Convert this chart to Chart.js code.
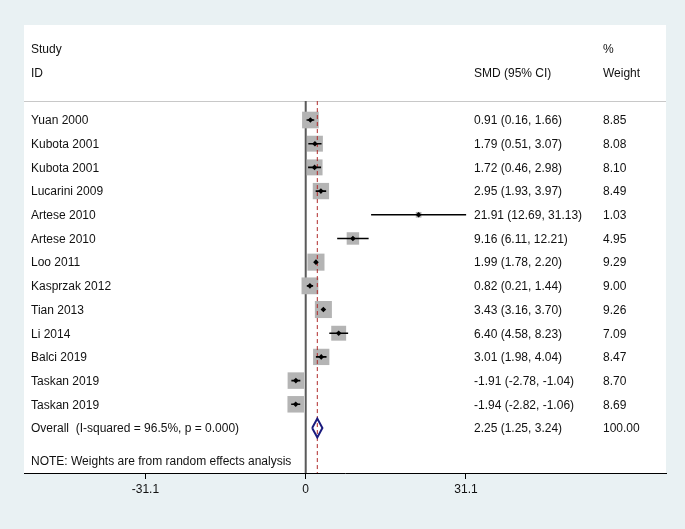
<!DOCTYPE html>
<html>
<head>
<meta charset="utf-8">
<script src="https://cdn.jsdelivr.net/npm/chart.js@4"></script>
<style>
  html, body { margin: 0; padding: 0; background: #e9f1f3; }
  #wrap { width: 685px; height: 529px; }
</style>
</head>
<body>
<div id="wrap"><canvas id="forest" width="685" height="529"></canvas></div>
<script>
"use strict";

// forest plot data
const studies = ["Yuan 2000", "Kubota 2001", "Kubota 2001", "Lucarini 2009", "Artese 2010",
  "Artese 2010", "Loo 2011", "Kasprzak 2012", "Tian 2013", "Li 2014", "Balci 2019",
  "Taskan 2019", "Taskan 2019"];
const smd = [0.91, 1.79, 1.72, 2.95, 21.91, 9.16, 1.99, 0.82, 3.43, 6.40, 3.01, -1.91, -1.94];
const ciLow = [0.16, 0.51, 0.46, 1.93, 12.69, 6.11, 1.78, 0.21, 3.16, 4.58, 1.98, -2.78, -2.82];
const ciHigh = [1.66, 3.07, 2.98, 3.97, 31.13, 12.21, 2.20, 1.44, 3.70, 8.23, 4.04, -1.04, -1.06];
const weights = [8.85, 8.08, 8.10, 8.49, 1.03, 4.95, 9.29, 9.00, 9.26, 7.09, 8.47, 8.70, 8.69];

const overall = { est: 2.25, lo: 1.25, hi: 3.24, weight: 100.00 };
const overallLabel = "Overall  (I-squared = 96.5%, p = 0.000)";
const noteText = "NOTE: Weights are from random effects analysis";
const xTicks = [-31.1, 0, 31.1];

// row positions (y axis is row index, 0 = first study)
const ROW_HEAD1 = -3, ROW_HEAD2 = -2, ROW_RULE = -0.8;
const ROW_OVERALL = studies.length;
const ROW_NOTE = 14.4;
const Y_MIN = -4.01, Y_MAX = 14.9;

const FONT = "12px 'Liberation Sans', Arial, sans-serif";
const TXT = "#111111";
const BOX_K = 3.96; // box radius per sqrt(weight)

const rows = studies.map((_, i) => i);

// CI segments, separated by gaps
const ciData = [];
rows.forEach((i) => {
  ciData.push({ x: ciLow[i], y: i }, { x: ciHigh[i], y: i }, { x: ciHigh[i], y: null });
});

const diamond = [
  { x: overall.lo, y: ROW_OVERALL },
  { x: overall.est, y: ROW_OVERALL - 0.4 },
  { x: overall.hi, y: ROW_OVERALL },
  { x: overall.est, y: ROW_OVERALL + 0.4 },
  { x: overall.lo, y: ROW_OVERALL },
];

const fmt = (v) => v.toFixed(2);

const panelPlugin = {
  id: "panel",
  beforeDraw(chart) {
    const { ctx, chartArea: a } = chart;
    ctx.save();
    ctx.fillStyle = "#e9f1f3";
    ctx.fillRect(0, 0, chart.width, chart.height);
    ctx.fillStyle = "#ffffff";
    ctx.fillRect(a.left, a.top, a.right - a.left, a.bottom - a.top);
    // rule under the header
    const yr = Math.round(chart.scales.y.getPixelForValue(ROW_RULE)) + 0.5;
    ctx.strokeStyle = "#c8c8c8";
    ctx.lineWidth = 1;
    ctx.beginPath();
    ctx.moveTo(a.left, yr);
    ctx.lineTo(a.right, yr);
    ctx.stroke();
    ctx.restore();
  },
  afterDraw(chart) {
    const { ctx } = chart;
    const y = chart.scales.y;
    const colStudy = 31, colEst = 474, colWt = 603;
    ctx.save();
    ctx.font = FONT;
    ctx.fillStyle = TXT;
    ctx.textBaseline = "middle";
    ctx.textAlign = "left";
    const put = (s, x, row) => ctx.fillText(s, x, y.getPixelForValue(row) + 1);
    put("Study", colStudy, ROW_HEAD1);
    put("ID", colStudy, ROW_HEAD2);
    put("SMD (95% CI)", colEst, ROW_HEAD2);
    put("%", colWt, ROW_HEAD1);
    put("Weight", colWt, ROW_HEAD2);
    rows.forEach((i) => {
      put(studies[i], colStudy, i);
      put(`${fmt(smd[i])} (${fmt(ciLow[i])}, ${fmt(ciHigh[i])})`, colEst, i);
      put(fmt(weights[i]), colWt, i);
    });
    put(overallLabel, colStudy, ROW_OVERALL);
    put(`${fmt(overall.est)} (${fmt(overall.lo)}, ${fmt(overall.hi)})`, colEst, ROW_OVERALL);
    put(fmt(overall.weight), colWt, ROW_OVERALL);
    put(noteText, colStudy, ROW_NOTE);
    ctx.restore();
  },
};

new Chart(document.getElementById("forest"), {
  type: "scatter",
  data: {
    datasets: [
      {
        label: "estimate",
        data: rows.map((i) => ({ x: smd[i], y: i })),
        pointStyle: "rectRot",
        pointRadius: 2.8,
        backgroundColor: "#000000",
        borderWidth: 0,
        order: 0,
      },
      {
        label: "overall",
        data: diamond,
        showLine: true,
        borderColor: "#1b1b7e",
        borderWidth: 2,
        pointRadius: 0,
        fill: false,
        tension: 0,
        order: 0,
      },
      {
        label: "ci",
        data: ciData,
        showLine: true,
        spanGaps: false,
        borderColor: "#000000",
        borderWidth: 1.6,
        pointRadius: 0,
        order: 1,
      },
      {
        label: "overall line",
        data: [{ x: overall.est, y: ROW_RULE }, { x: overall.est, y: Y_MAX }],
        showLine: true,
        borderColor: "#b02a2a",
        borderWidth: 1,
        borderDash: [4, 3],
        pointRadius: 0,
        order: 2,
      },
      {
        label: "weight box",
        data: rows.map((i) => ({ x: smd[i], y: i })),
        pointStyle: "rect",
        pointRadius: weights.map((w) => BOX_K * Math.sqrt(w)),
        backgroundColor: "#b4b4b4",
        borderWidth: 0,
        order: 3,
      },
      {
        label: "null line",
        data: [{ x: 0, y: ROW_RULE }, { x: 0, y: Y_MAX }],
        showLine: true,
        borderColor: "#5a5a5a",
        borderWidth: 2,
        pointRadius: 0,
        order: 4,
      },
    ],
  },
  options: {
    responsive: false,
    animation: false,
    events: [],
    layout: { padding: { left: 24, right: 19, top: 25, bottom: 29.6 } },
    plugins: { legend: { display: false }, tooltip: { enabled: false } },
    scales: {
      x: {
        type: "linear",
        min: -54.67,
        max: 69.92,
        afterBuildTicks: (scale) => { scale.ticks = xTicks.map((v) => ({ value: v })); },
        ticks: {
          color: TXT,
          font: { family: "'Liberation Sans', Arial, sans-serif", size: 12 },
          padding: 3,
          maxRotation: 0,
          autoSkip: false,
          callback: (v) => String(v),
        },
        grid: { drawOnChartArea: false, drawTicks: true, tickLength: 6, tickColor: "#000000", tickWidth: 1 },
        border: { display: true, color: "#000000", width: 1 },
      },
      y: {
        type: "linear",
        display: false,
        reverse: true,
        min: Y_MIN,
        max: Y_MAX,
      },
    },
  },
  plugins: [panelPlugin],
});
</script>
</body>
</html>
